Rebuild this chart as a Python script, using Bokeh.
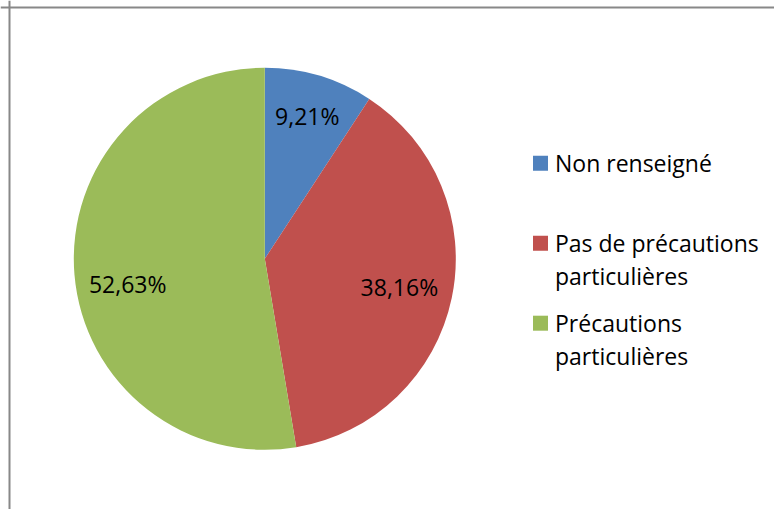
import math
from bokeh.plotting import figure
from bokeh.models import Range1d, Span, ColumnDataSource
from bokeh.embed import file_html
from bokeh.resources import INLINE
from bokeh.core.properties import value

# ---- data ----
categories = ["Non renseigné", "Pas de précautions\nparticulières", "Précautions\nparticulières"]
shares = [9.21, 38.16, 52.63]
label_texts = ["9,21%", "38,16%", "52,63%"]
colors = ["#4F81BD", "#C0504D", "#9BBB59"]

# ---- layout (page pixels; figure fills the window from 0,0) ----
W, H = 774, 509
CX, CY_PAGE, R = 264.3, 258.3, 191.0
label_radius_frac = [0.78, 0.72, 0.72]
label_nudge_down = [0, 0, 14]
FONT = "Open Sans"
FS = "23px"
TXT_OFF = 0


def dy(page_y):
    return H - page_y


p = figure(width=W, height=H, output_backend="svg", toolbar_location=None,
           x_range=Range1d(0, W), y_range=Range1d(0, H), min_border=0,
           background_fill_color="white", border_fill_color="white")
p.outline_line_color = None
p.axis.visible = False
p.grid.visible = False

total = sum(shares)
starts, ends, mids = [], [], []
cum = 0.0
for s in shares:
    f0 = cum / total
    f1 = (cum + s) / total
    starts.append(math.pi / 2 - 2 * math.pi * f1)
    ends.append(math.pi / 2 - 2 * math.pi * f0)
    mids.append(2 * math.pi * (f0 + f1) / 2)
    cum += s

cy = dy(CY_PAGE)
src = ColumnDataSource(dict(start=starts, end=ends, color=colors))
p.wedge(x=CX, y=cy, radius=R, start_angle="start", end_angle="end",
        fill_color="color", line_color=None, source=src)

lx = [CX + R * fr * math.sin(t) for fr, t in zip(label_radius_frac, mids)]
ly = [cy + R * fr * math.cos(t) - n for fr, t, n in zip(label_radius_frac, mids, label_nudge_down)]
p.text(x=lx, y=ly, text=label_texts, text_font=value(FONT), text_font_size=FS,
       text_color="black", text_align="center", text_baseline="alphabetic",
       y_offset=TXT_OFF)

# ---- legend ----
LEG_X_SQ, LEG_X_TXT = 540.0, 554.5
LEG_Y0, LEG_STEP, LINE_H = 162.7, 80.0, 33.0
sq_y = [dy(LEG_Y0 + i * LEG_STEP) for i in range(len(categories))]
p.rect(x=[LEG_X_SQ] * len(categories), y=sq_y, width=15, height=15,
       width_units="screen", height_units="screen", fill_color=colors, line_color=None)

tx, ty, tt = [], [], []
for i, cat in enumerate(categories):
    for j, line in enumerate(cat.split("\n")):
        tx.append(LEG_X_TXT)
        ty.append(sq_y[i] - j * LINE_H)
        tt.append(line)
p.text(x=tx, y=ty, text=tt, text_font=value(FONT), text_font_size=FS,
       text_color="black", text_align="left", text_baseline="alphabetic",
       y_offset=TXT_OFF)

# ---- chart frame (left and top edges visible; right/bottom fall outside the window) ----
p.add_layout(Span(location=9, dimension="height", line_color="#888888", line_width=2))
p.add_layout(Span(location=dy(7), dimension="width", line_color="#888888", line_width=2))

open("out.html", "w").write(file_html(p, INLINE))
